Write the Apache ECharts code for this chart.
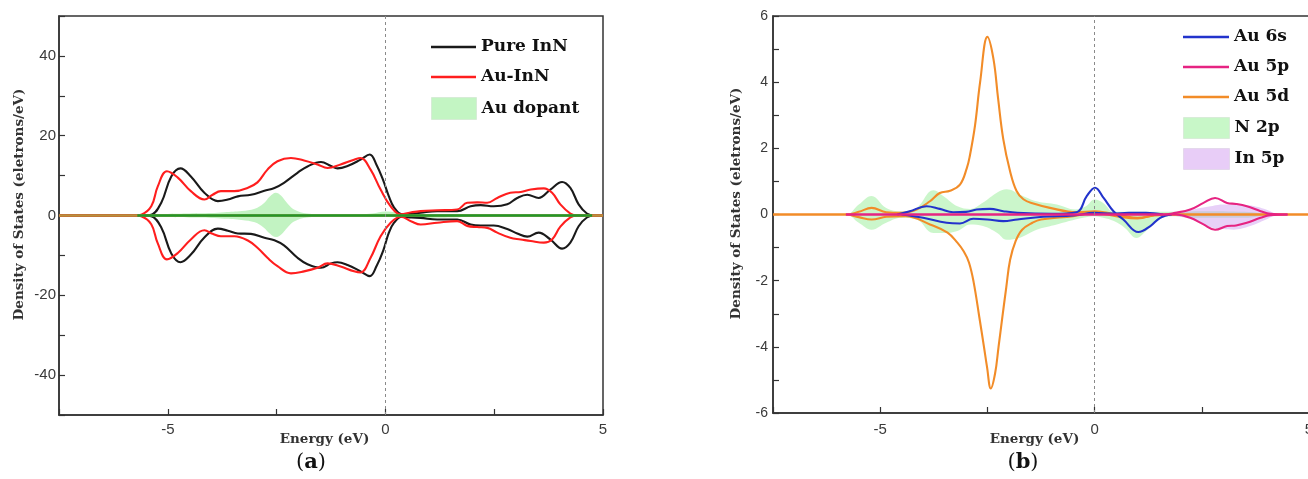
<!DOCTYPE html>
<html><head><meta charset="utf-8">
<script src="https://cdn.jsdelivr.net/npm/echarts@6/dist/echarts.min.js"></script>
<style>html,body{margin:0;padding:0;background:#fff}#c{width:1308px;height:479px}</style>
</head><body><div id="c"></div>
<script>
// ---------- Panel (a) ----------
const pureE = [-7.5,-5.6,-5.38,-5.15,-4.92,-4.71,-4.47,-4.16,-3.85,-3.62,-3.39,-3.09,-2.78,-2.55,-2.33,-2.02,-1.79,-1.48,-1.25,-1.10,-0.87,-0.57,-0.36,-0.2,-0.05,0.08,0.2,0.38,0.6,0.81,1.19,1.65,1.96,2.19,2.49,2.80,3.03,3.26,3.52,3.79,4.06,4.25,4.44,4.63,4.8,5];
const pureUp = [0,0,0.2,3.2,9.8,11.8,9.8,5.7,3.6,4.0,4.8,5.2,6.2,6.9,8.2,10.7,12.3,13.4,12.4,11.8,12.4,14.0,15.3,12.6,8.8,4.8,2.0,0.3,0.4,0.7,1.1,1.1,2.3,2.6,2.3,2.8,4.4,5.2,4.4,6.5,8.4,6.9,2.8,0.5,0,0];
const pureDn = [0,0,-0.2,-3.0,-9.5,-11.7,-9.8,-5.5,-3.3,-3.8,-4.5,-4.6,-5.6,-6.2,-7.5,-10.6,-12.2,-13.1,-12.0,-11.7,-12.4,-14.0,-15.2,-12.6,-8.8,-4.3,-1.8,-0.3,-0.5,-0.6,-1.0,-1.0,-2.25,-2.5,-2.5,-3.4,-4.5,-5.3,-4.3,-6.0,-8.3,-6.8,-2.7,-0.5,0,0];
const auE = [-7.5,-5.75,-5.61,-5.38,-5.23,-5.02,-4.77,-4.47,-4.16,-3.97,-3.78,-3.47,-3.17,-2.94,-2.71,-2.48,-2.17,-1.87,-1.56,-1.33,-1.03,-0.72,-0.57,-0.34,-0.11,0.12,0.35,0.6,0.81,1.19,1.65,1.88,2.11,2.34,2.57,2.87,3.11,3.34,3.64,3.83,4.02,4.25,4.4,5];
const auUp = [0,0,0.2,2.3,7.3,11.1,9.5,6.1,4.0,5.2,6.1,6.1,6.9,8.3,11.5,13.6,14.4,13.8,12.8,11.9,12.8,14.0,14.4,11.5,6.5,2.3,0.3,0.8,1.1,1.3,1.5,3.2,3.3,3.2,4.4,5.7,5.9,6.5,6.8,5.7,2.8,0.5,0,0];
const auDn = [0,0,-0.2,-2.2,-7.0,-11.0,-9.4,-6.0,-3.7,-4.6,-5.2,-5.2,-6.2,-8.1,-10.6,-12.7,-14.5,-14.0,-13.1,-12.0,-12.8,-14.0,-14.3,-10.6,-5.2,-1.8,-0.3,-1.5,-2.25,-1.8,-1.4,-2.6,-2.9,-3.1,-4.3,-5.6,-6.0,-6.4,-6.8,-6.0,-2.8,-0.5,0,0];
const dopE = [-7.5,-5.8,-5.5,-5,-4.5,-4,-3.7,-3.3,-3.0,-2.8,-2.65,-2.52,-2.4,-2.25,-2.1,-1.8,-1.4,-0.8,-0.3,0,0.25,0.5,1,1.5,2,3,4,4.5,5];
const dopUp = [0,0,0.3,0.4,0.5,0.6,0.8,1.1,1.7,3.0,4.8,5.7,5.0,3.0,1.5,0.5,0.3,0.3,0.5,1.0,0.8,0.3,0.3,0.3,0.3,0.3,0.2,0,0];
const dopDn = [0,0,-0.3,-0.4,-0.5,-0.6,-0.8,-1.1,-1.7,-3.0,-4.6,-5.4,-4.8,-3.0,-1.5,-0.5,-0.3,-0.3,-0.3,-0.2,-0.3,-0.5,-0.6,-0.5,-0.3,-0.2,-0.2,0,0];
// extent of the dark-green baseline (energy)
const baseGreenRange = [-5.7, 4.75];

// ---------- Panel (b) ----------
const d5UpE = [-7.5,-5.8,-5.5,-5.2,-4.86,-4.5,-4.15,-3.84,-3.61,-3.37,-3.14,-2.98,-2.91,-2.79,-2.67,-2.50,-2.36,-2.25,-2.13,-1.97,-1.82,-1.66,-1.43,-1.04,-0.42,0,0.3,0.7,1.0,1.4,2,5];
const d5Up = [0,0,0.08,0.2,0.07,0.05,0.15,0.4,0.65,0.72,0.9,1.4,1.77,2.68,4.0,5.37,4.71,3.5,2.28,1.3,0.71,0.46,0.33,0.2,0.07,0.1,0.05,-0.05,-0.1,-0.03,0,0];
const d5DnE = [-7.5,-5.8,-5.5,-5.2,-4.86,-4.4,-3.84,-3.43,-3.2,-3.05,-2.93,-2.82,-2.69,-2.58,-2.51,-2.42,-2.32,-2.24,-2.15,-2.06,-1.97,-1.84,-1.69,-1.45,-1.25,-0.5,0,0.5,1.0,1.5,5];
const d5Dn = [0,0,-0.08,-0.15,-0.07,-0.05,-0.3,-0.55,-0.85,-1.12,-1.45,-2.05,-3.09,-4.0,-4.6,-5.26,-4.8,-4.0,-3.09,-2.2,-1.37,-0.8,-0.46,-0.25,-0.15,-0.05,0.05,-0.05,-0.12,0,0];
const s6UpE = [-4.6,-4.31,-3.92,-3.61,-3.30,-3.0,-2.75,-2.44,-2.13,-1.8,-1.0,-0.42,-0.18,0.01,0.21,0.44,0.67,1.02,1.30,1.53,1.8];
const s6Up = [0,0.1,0.25,0.17,0.07,0.08,0.15,0.17,0.1,0.05,0.02,0.07,0.56,0.81,0.5,0.1,-0.15,-0.53,-0.35,-0.1,0];
const s6DnE = [-4.5,-4.0,-3.45,-3.14,-2.83,-2.5,-2.13,-1.8,-1.2,-0.5,0,0.4,0.8,1.2,1.6];
const s6Dn = [0,-0.1,-0.25,-0.27,-0.13,-0.15,-0.2,-0.15,-0.07,-0.03,0.05,0.03,0.05,0.05,0];
const p5UpE = [-5.8,1.6,1.88,2.23,2.54,2.81,3.09,3.3,3.55,3.87,4.1,4.5];
const p5Up = [0,0,0.05,0.15,0.35,0.5,0.35,0.32,0.25,0.1,0.02,0];
const p5DnE = [-5.8,1.9,2.23,2.54,2.81,3.09,3.3,3.55,3.87,4.1,4.5];
const p5Dn = [0,0,-0.1,-0.3,-0.46,-0.35,-0.33,-0.25,-0.1,-0.02,0];
const n2pE = [-7.5,-5.8,-5.5,-5.2,-4.86,-4.5,-4.15,-3.76,-3.53,-3.2,-2.9,-2.6,-2.28,-2.05,-1.74,-1.35,-0.88,-0.45,-0.2,0,0.2,0.45,0.7,0.98,1.2,1.5,1.8,2.5,3.5,4.2,5];
const n2pUp = [0,0,0.3,0.56,0.2,0.1,0.2,0.73,0.56,0.25,0.17,0.36,0.66,0.76,0.6,0.4,0.3,0.15,0.25,0.45,0.35,0.08,0.08,0.08,0.08,0.08,0.08,0.1,0.08,0,0];
const n2pDn = [0,0,-0.25,-0.46,-0.25,-0.1,-0.15,-0.56,-0.56,-0.5,-0.3,-0.35,-0.55,-0.76,-0.7,-0.46,-0.3,-0.15,-0.08,-0.05,-0.1,-0.2,-0.4,-0.71,-0.5,-0.15,-0.05,-0.1,-0.1,0,0];
const in5E = [-7.5,1.7,1.92,2.2,2.46,2.75,3.0,3.24,3.63,4.0,4.3,5];
const in5Up = [0,0,0.07,0.13,0.2,0.26,0.3,0.3,0.27,0.15,0,0];
const in5Dn = [0,0,-0.05,-0.12,-0.25,-0.4,-0.44,-0.46,-0.35,-0.15,0,0];

// ---------- Axes / labels ----------
const xLabelsShown = [-5, 0, 5];
const yLabelsA = [-40, -20, 0, 20, 40];
const yLabelsB = [-6, -4, -2, 0, 2, 4, 6];
const legendA_lines = ['Pure InN', 'Au-InN'];
const legendA_areas = ['Au dopant'];
const legendB_lines = ['Au 6s', 'Au 5p', 'Au 5d'];
const legendB_areas = ['N 2p', 'In 5p'];

function zip(e, v) { return e.map((x, i) => [x, v[i]]); }

const SERIF = 'DejaVu Serif';
const SANS = 'Liberation Sans';
const AX = '#333';
const SMOOTH = 0.4;

function xAxisCfg(gi, nameGap, margin) {
  return {
    type: 'value', gridIndex: gi, min: -7.5, max: 5, interval: 2.5,
    name: 'Energy (eV)', nameLocation: 'middle', nameGap: nameGap, nameMoveOverlap: false,
    nameTextStyle: { fontFamily: SERIF, fontWeight: 'bold', fontSize: 13.5, color: '#333', padding: [0, 13, 0, 0] },
    axisLine: { show: true, onZero: false, lineStyle: { color: AX, width: 1.5 } },
    axisTick: { show: true, inside: true, length: 6, lineStyle: { color: AX, width: 1.2 } },
    axisLabel: { margin: margin, fontFamily: SANS, fontSize: 15, color: '#3a3a3a', hideOverlap: false,
      formatter: v => xLabelsShown.some(s => Math.abs(s - v) < 1e-6) ? String(v) : '' },
    splitLine: { show: false }
  };
}
function yAxisCfg(gi, min, max, interval, shown, nameGap, fs, margin) {
  return {
    type: 'value', gridIndex: gi, min: min, max: max, interval: interval,
    name: 'Density of States (eletrons/eV)', nameLocation: 'middle', nameGap: nameGap, nameMoveOverlap: false,
    nameTextStyle: { fontFamily: SERIF, fontWeight: 'bold', fontSize: 13.5, color: '#333', padding: [0, 0, 0, 22] },
    axisLine: { show: true, onZero: false, lineStyle: { color: AX, width: 1.5 } },
    axisTick: { show: true, inside: true, length: 6, lineStyle: { color: AX, width: 1.2 } },
    axisLabel: { margin: margin, fontFamily: SANS, fontSize: fs, color: '#3a3a3a',
      formatter: v => shown.some(s => Math.abs(s - v) < 1e-6) ? String(v) : '' },
    splitLine: { show: false }
  };
}
function lineS(name, e, v, color, xi, extra) {
  return Object.assign({
    type: 'line', name: name, xAxisIndex: xi, yAxisIndex: xi, data: zip(e, v),
    smooth: SMOOTH, symbol: 'none', color: color,
    lineStyle: { color: color, width: 2.1 }, silent: true
  }, extra || {});
}
function areaS(name, e, v, legendColor, fill, xi, extra) {
  return Object.assign({
    type: 'line', name: name, xAxisIndex: xi, yAxisIndex: xi, data: zip(e, v),
    smooth: SMOOTH, symbol: 'none', color: legendColor,
    lineStyle: { width: 0, opacity: 0 }, areaStyle: { color: fill, opacity: 1 }, silent: true
  }, extra || {});
}

const mlA = {
  silent: true, symbol: 'none', label: { show: false }, animation: false,
  data: [
    { yAxis: 0, lineStyle: { color: '#b8923c', width: 2.5, type: 'solid' } },
    [ { coord: [baseGreenRange[0], 0], lineStyle: { color: '#23962a', width: 2.5, type: 'solid' } }, { coord: [baseGreenRange[1], 0] } ],
    { xAxis: 0, lineStyle: { color: '#8a8a8a', width: 1, type: [3, 3] } }
  ]
};
const mlB = {
  silent: true, symbol: 'none', label: { show: false }, animation: false,
  data: [
    { xAxis: 0, lineStyle: { color: '#8a8a8a', width: 1, type: [3, 3] } }
  ]
};

const legendText = { fontFamily: SERIF, fontWeight: 'bold', fontSize: 17, color: '#111', lineHeight: 20 };

const option = {
  animation: false,
  backgroundColor: '#fff',
  grid: [
    { left: 59, top: 16, width: 544, height: 399, show: true, borderColor: AX, borderWidth: 1.5, backgroundColor: 'transparent', outerBoundsMode: 'none', containLabel: false },
    { left: 773, top: 16, width: 536, height: 397, show: true, borderColor: AX, borderWidth: 1.5, backgroundColor: 'transparent', outerBoundsMode: 'none', containLabel: false }
  ],
  xAxis: [xAxisCfg(0, 17, 7), xAxisCfg(1, 19, 9)],
  yAxis: [yAxisCfg(0, -50, 50, 10, yLabelsA, 33, 15, 3), yAxisCfg(1, -6, 6, 1, yLabelsB, 30, 14, 5)],
  legend: [
    { data: legendA_lines, orient: 'vertical', left: 431, top: 37, padding: 0, itemGap: 10, itemWidth: 45, itemHeight: 2.5, icon: 'rect', textStyle: legendText, selectedMode: false },
    { data: legendA_areas.map(n => ({ name: n, itemStyle: { color: '#c3f5c3', borderColor: '#d6ecd6', borderWidth: 1 } })), orient: 'vertical', left: 431, top: 97, padding: 0, itemGap: 8, itemWidth: 45, itemHeight: 22, icon: 'rect', textStyle: legendText, selectedMode: false },
    { data: legendB_lines, orient: 'vertical', left: 1183, top: 27, padding: 0, itemGap: 10, itemWidth: 46, itemHeight: 2.5, icon: 'rect', textStyle: legendText, selectedMode: false },
    { data: [
        { name: legendB_areas[0], itemStyle: { color: '#c8f7c8', borderColor: '#d8ecd8', borderWidth: 1 } },
        { name: legendB_areas[1], itemStyle: { color: '#e8cdf7', borderColor: '#e4d8ec', borderWidth: 1 } }
      ], orient: 'vertical', left: 1183, top: 117, padding: 0, itemGap: 9, itemWidth: 46, itemHeight: 21, icon: 'rect', textStyle: legendText, selectedMode: false }
  ],
  graphic: [
    { type: 'text', x: 311, y: 463, style: { text: '{p|(}{b|a}{p|)}', align: 'center', verticalAlign: 'middle',
      rich: { p: { fontFamily: SERIF, fontSize: 21, fill: '#111' }, b: { fontFamily: SERIF, fontSize: 21, fontWeight: 'bold', fill: '#111' } } } },
    { type: 'text', x: 1023, y: 463, style: { text: '{p|(}{b|b}{p|)}', align: 'center', verticalAlign: 'middle',
      rich: { p: { fontFamily: SERIF, fontSize: 21, fill: '#111' }, b: { fontFamily: SERIF, fontSize: 21, fontWeight: 'bold', fill: '#111' } } } }
  ],
  series: [
    areaS('Au dopant', dopE, dopUp, '#c3f5c3', 'rgba(120,228,120,0.45)', 0, { markLine: mlA }),
    areaS('Au dopant', dopE, dopDn, '#c3f5c3', 'rgba(120,228,120,0.45)', 0),
    lineS('Pure InN', pureE, pureUp, '#1a1a1a', 0),
    lineS('Pure InN', pureE, pureDn, '#1a1a1a', 0),
    lineS('Au-InN', auE, auUp, '#ff1e1e', 0),
    lineS('Au-InN', auE, auDn, '#ff1e1e', 0),

    areaS('N 2p', n2pE, n2pUp, '#c8f7c8', 'rgba(140,235,140,0.45)', 1, { markLine: mlB }),
    areaS('N 2p', n2pE, n2pDn, '#c8f7c8', 'rgba(140,235,140,0.45)', 1),
    areaS('In 5p', in5E, in5Up, '#e8cdf7', 'rgba(205,150,240,0.45)', 1),
    areaS('In 5p', in5E, in5Dn, '#e8cdf7', 'rgba(205,150,240,0.45)', 1),
    lineS('Au 5d', d5UpE, d5Up, '#f28c28', 1),
    lineS('Au 5d', d5DnE, d5Dn, '#f28c28', 1),
    lineS('Au 6s', s6UpE, s6Up, '#2233cc', 1),
    lineS('Au 6s', s6DnE, s6Dn, '#2233cc', 1),
    lineS('Au 5p', p5UpE, p5Up, '#e62382', 1),
    lineS('Au 5p', p5DnE, p5Dn, '#e62382', 1)
  ]
};

const chart = echarts.init(document.getElementById('c'), null, { renderer: 'canvas' });
chart.setOption(option);
</script></body></html>
